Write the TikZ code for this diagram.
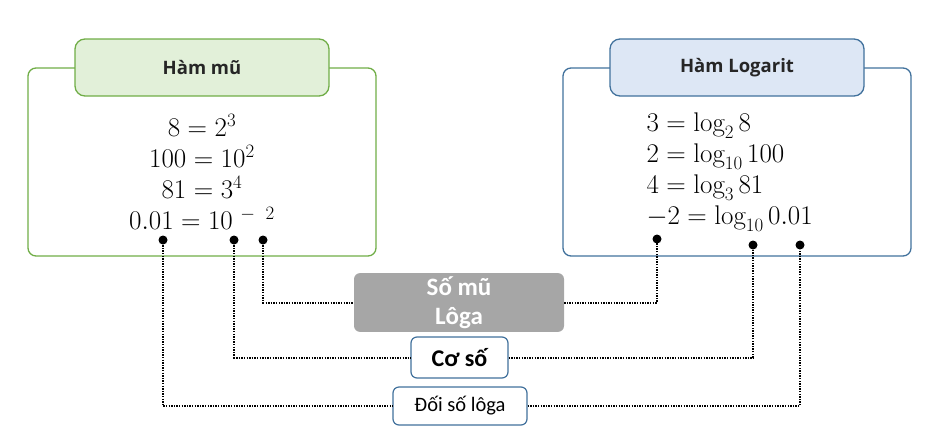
\RequirePackage{fix-cm}
\documentclass[tikz,border=0pt]{standalone}
\usepackage{fontspec}
\setsansfont{Carlito}
\newfontfamily\headfont{Open Sans}
\usetikzlibrary{positioning}

\definecolor{mugreen}{HTML}{70AD47}
\definecolor{mufill}{HTML}{E2F0D9}
\definecolor{logblue}{HTML}{41719C}
\definecolor{logfill}{HTML}{DDE7F5}
\definecolor{tagfill}{HTML}{A6A6A6}
\definecolor{headtext}{HTML}{262626}

\begin{document}
\begin{tikzpicture}[x=1pt,y=-1pt]
                \tikzset{frame/.style={draw, line width=1.3pt, rounded corners=8pt, minimum width=348pt, minimum height=188pt},
                head/.style={draw, line width=1.3pt, rounded corners=10pt, minimum width=254pt, minimum height=57pt, text=headtext, font=\headfont\bfseries\fontsize{18.5}{20}\selectfont},
                eqs/.style={font=\fontsize{27}{31}\selectfont},
                bullet/.style={circle, fill=black, inner sep=0pt, minimum size=9pt},
                link/.style={line width=2pt, dash pattern=on 1.4pt off 1.2pt},
                graytag/.style={fill=tagfill, rounded corners=6pt, text=white, align=center, font=\sffamily\bfseries\fontsize{25}{29}\selectfont},
                whitetag/.style={draw=logblue, fill=white, line width=1.2pt, rounded corners=6pt, font=\sffamily\bfseries\fontsize{24}{26}\selectfont}}

                \useasboundingbox (0,0) rectangle (928,426);

                % left box
                \node[frame, draw=mugreen] (mu) at (202,162) {};
                \node[head, draw=mugreen, fill=mufill] (muhead) at (202,67.5) {Hàm mũ};
                \node[eqs, align=center] (mueq) at (202,172) {$8 = 2^3$\\ $100 = 10^2$\\ $81 = 3^4$\\ $0.01 = 10\;^{-\;\;2}$};

                % right box
                \node[eqs, align=left, anchor=west] (logeq) at (643,172) {$3 = \log_2 8$\\ $2 = \log_{10} 100$\\ $4 = \log_3 81$\\ $-2 = \log_{10} 0.01$};
                \node[frame, draw=logblue] (log) at (737,162) {};
                \node[head, draw=logblue, fill=logfill] (loghead) at (737,67.5) {Hàm Logarit};

                % tags
                \node[graytag, minimum width=210pt, minimum height=55pt] (somu) at (459,302.5) {Số mũ\\Lôga};
                \node[whitetag, minimum width=97pt, minimum height=41pt] (coso) at (459.5,357.5) {Cơ số};
                \node[whitetag, minimum width=134pt, minimum height=38pt, font=\sffamily\fontsize{20.5}{22}\selectfont] (doiso) at (460,406) {Đối số lôga};

                % dots
                \node[bullet] (m1) at (163,240) {};
                \node[bullet] (m2) at (234,240) {};
                \node[bullet] (m3) at (263,240) {};
                \node[bullet] (l1) at (657,239) {};
                \node[bullet] (l2) at (753,245) {};
                \node[bullet] (l3) at (800,245) {};

                \draw[link] (m3.center) |- (somu);
                \draw[link] (somu) -| (l1.center);
                \draw[link] (m2.center) |- (coso);
                \draw[link] (coso) -| (l2.center);
                \draw[link] (m1.center) |- (doiso);
                \draw[link] (doiso) -| (l3.center);
            \end{tikzpicture}
\end{document}
